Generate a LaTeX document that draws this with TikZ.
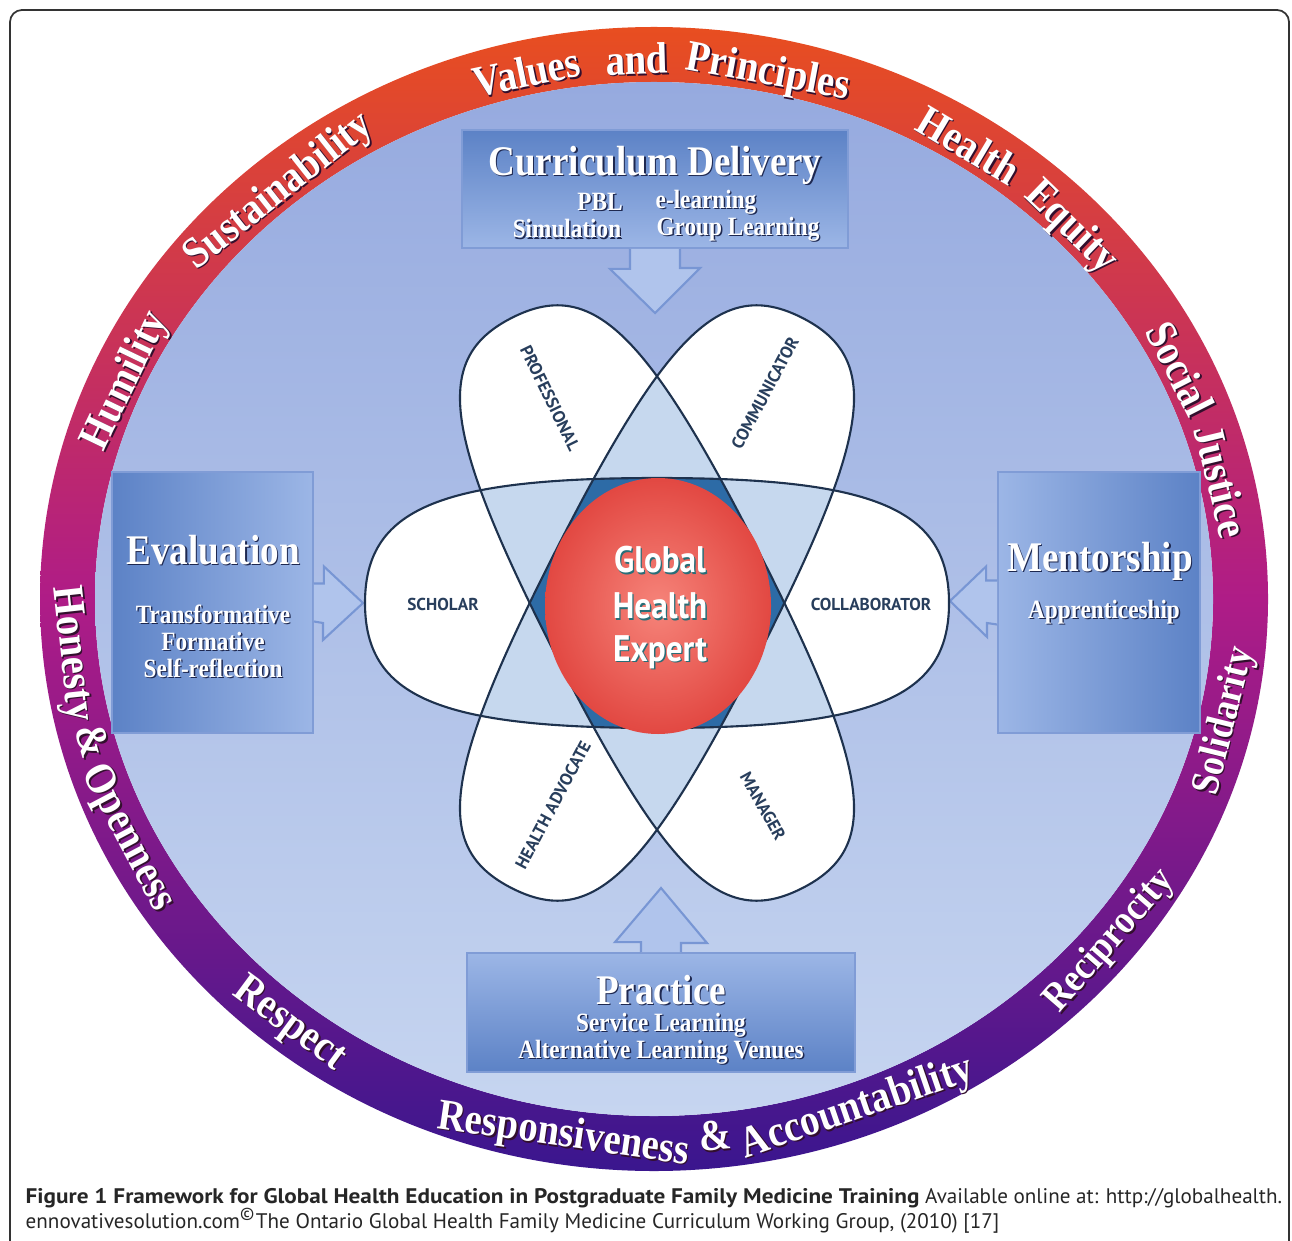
\documentclass[tikz,border=0pt]{standalone}
\usepackage{fontspec}
\setmainfont{Liberation Serif}
\newfontfamily\serifcond[FakeStretch=0.88]{Liberation Serif}
\newfontfamily\labelsans{PT Sans}
\newfontfamily\capbold[FakeStretch=1.1]{PT Sans}
\newfontfamily\expertsans[FakeStretch=0.9]{PT Sans}
\usetikzlibrary{calc,positioning}

\definecolor{ringtop}{RGB}{232,78,32}
\definecolor{ringmid}{RGB}{175,28,135}
\definecolor{ringbot}{RGB}{58,22,142}
\definecolor{disctop}{RGB}{150,170,223}
\definecolor{discbot}{RGB}{198,213,240}
\definecolor{boxdark}{RGB}{92,130,198}
\definecolor{boxlight}{RGB}{156,182,230}
\definecolor{boxline}{RGB}{128,156,214}
\definecolor{arrowfill}{RGB}{176,196,236}
\definecolor{arrowline}{RGB}{120,150,212}
\definecolor{lensblue}{RGB}{198,216,238}
\definecolor{coreblue}{RGB}{45,107,166}
\definecolor{petalline}{RGB}{30,50,78}
\definecolor{labelc}{RGB}{40,62,92}
\definecolor{redin}{RGB}{246,132,122}
\definecolor{redout}{RGB}{226,72,66}
\definecolor{txtshadow}{RGB}{30,40,80}
\definecolor{ringshadow}{RGB}{50,15,45}
\definecolor{tealshadow}{RGB}{40,110,120}

% rounded petal (superellipse-like), half length, half width, handle factor
\newcommand{\petal}[3]{(#1,0) .. controls (#1,{#3*#2}) and ({#3*#1},#2) .. (0,#2)
  .. controls ({-#3*#1},#2) and (-#1,{#3*#2}) .. (-#1,0)
  .. controls (-#1,{-#3*#2}) and ({-#3*#1},-#2) .. (0,-#2)
  .. controls ({#3*#1},-#2) and (#1,{-#3*#2}) .. (#1,0) -- cycle}

% white text with a drop shadow
\newcommand{\shtext}[5]{%
  \node[font=#3, text=#4, inner sep=0pt] (#1s) at ($(#2)+(1.4,-1.4)$) {#5};
  \node[font=#3, text=white, inner sep=0pt] (#1) at (#2) {#5};}

\begin{document}
\begin{tikzpicture}[x=0.01cm, y=0.01cm,
    boxnode/.style={rectangle, draw=boxline, line width=0.5pt, inner sep=0pt},
    blockarrow/.style={fill=arrowfill, draw=arrowline, line width=0.6pt, line join=miter},
    plabel/.style={font=\labelsans\bfseries\fontsize{4.9}{5}\selectfont, text=labelc, inner sep=0pt},
    ringword/.style={text=white, anchor=base, inner sep=0pt},
    capt/.style={font=\labelsans\fontsize{6}{7}\selectfont, text=black!85, inner sep=0pt}]

  \useasboundingbox (0,0) rectangle (1292,-1240);
  \fill[white] (0,0) rectangle (1292,-1240);
  \draw[black!80, line width=0.5pt, rounded corners=0.12cm] (10,-1260) -- (10,-10) -- (1289,-10) -- (1289,-1260);

  % ring and disc
  \shade[even odd rule, top color=ringtop, bottom color=ringbot, middle color=ringmid]
    (654,-599) ellipse[x radius=614, y radius=572] (654,-599) ellipse[x radius=559, y radius=517];
  \shade[top color=disctop, bottom color=discbot] (654,-599) ellipse[x radius=559, y radius=517];

  % values on the ring, upper half (read clockwise)
  \foreach \ang/\wrd/\nm in {102.7/Values/val, 91.7/and/and, 78.6/Principles/pri,
      130.5/Sustainability/sus, 57.2/Health/hea, 43.8/Equity/equ, 156/Humility/hum,
      25.2/Social/soc, 12.6/Justice/jus}{
    \pgfmathsetmacro{\tang}{atan2(-525*cos(\ang), 567*sin(\ang))}
    \node[ringword, text=ringshadow, font=\serifcond\bfseries\fontsize{12.5}{13}\selectfont, rotate=\tang] (\nm-s) at ({655.5+567*cos(\ang)}, {-600.5+525*sin(\ang)}) {\wrd};
    \node[ringword, font=\serifcond\bfseries\fontsize{12.5}{13}\selectfont, rotate=\tang] (\nm) at ({654+567*cos(\ang)}, {-599+525*sin(\ang)}) {\wrd};
  }
  % lower half (read anticlockwise)
  \foreach \ang/\wrd/\nm/\fs in {185.8/Honesty/hon/12.5, 195.3/\&/amp/12.5, 206.1/Openness/ope/12.5,
      231.5/Respect/res/12.5, 261.1/Responsiveness/rsp/12.5, 276.0/\&/amb/12.5,
      290.3/Accountability/acc/12.5, 321/Reciprocity/rec/11.5, 347/Solidarity/sol/11.5}{
    \pgfmathsetmacro{\tang}{atan2(554*cos(\ang), -596*sin(\ang))}
    \node[ringword, text=ringshadow, font=\serifcond\bfseries\fontsize{\fs}{13}\selectfont, rotate=\tang] (\nm-s) at ({655.5+596*cos(\ang)}, {-600.5+554*sin(\ang)}) {\wrd};
    \node[ringword, font=\serifcond\bfseries\fontsize{\fs}{13}\selectfont, rotate=\tang] (\nm) at ({654+596*cos(\ang)}, {-599+554*sin(\ang)}) {\wrd};
  }

  % boxes
  \node[boxnode, minimum width=3.86cm, minimum height=1.18cm, top color=boxdark, bottom color=boxlight] (cur) at (655,-189) {};
  \node[boxnode, minimum width=2.01cm, minimum height=2.61cm, left color=boxdark, right color=boxlight] (eva) at (212.5,-602.5) {};
  \node[boxnode, minimum width=2.02cm, minimum height=2.61cm, left color=boxlight, right color=boxdark] (men) at (1099,-602.5) {};
  \node[boxnode, minimum width=3.88cm, minimum height=1.19cm, top color=boxlight, bottom color=boxdark] (pra) at (661,-1012.5) {};

  \coordinate (curtip) at (655,-313);
  \coordinate (evatip) at (363,-603);
  \coordinate (mentip) at (950,-601);
  \coordinate (pratip) at (661,-888);

  \path[blockarrow] ($(cur.south)+(-25,0)$) -- ++(0,-20) -- ++(-20,0) -- (curtip) -- ++(45,45) -- ++(-20,0) -- ($(cur.south)+(25,0)$);
  \path[blockarrow] ($(eva.east)+(0,19)$) -- ++(10,0) -- ++(0,17) -- (evatip) -- ++(-40,-37) -- ++(0,17) -- ($(eva.east)+(0,-19)$);
  \path[blockarrow] ($(men.west)+(0,22)$) -- ++(-11,0) -- ++(0,14) -- (mentip) -- ++(37,-36) -- ++(0,14) -- ($(men.west)+(0,-22)$);
  \path[blockarrow] ($(pra.north)+(-20,0)$) -- ++(0,10) -- ++(-26,0) -- (pratip) -- ++(46,-55) -- ++(-26,0) -- ($(pra.north)+(20,0)$);

  \shtext{curt}{655,-165}{\serifcond\bfseries\fontsize{12}{13}\selectfont}{txtshadow}{Curriculum Delivery}
  \shtext{pbl}{600,-202}{\serifcond\bfseries\fontsize{7.5}{8}\selectfont}{txtshadow}{PBL}
  \shtext{elearn}{706,-202}{\serifcond\bfseries\fontsize{7.5}{8}\selectfont}{txtshadow}{e-learning}
  \shtext{simul}{567,-229}{\serifcond\bfseries\fontsize{7.5}{8}\selectfont}{txtshadow}{Simulation}
  \shtext{group}{738,-229}{\serifcond\bfseries\fontsize{7.5}{8}\selectfont}{txtshadow}{Group Learning}

  \shtext{evat}{213,-550}{\serifcond\bfseries\fontsize{12}{13}\selectfont}{txtshadow}{Evaluation}
  \shtext{transf}{213,-614}{\serifcond\bfseries\fontsize{7.5}{8}\selectfont}{txtshadow}{Transformative}
  \shtext{form}{213,-641}{\serifcond\bfseries\fontsize{7.5}{8}\selectfont}{txtshadow}{Formative}
  \shtext{selfr}{213,-668}{\serifcond\bfseries\fontsize{7.5}{8}\selectfont}{txtshadow}{Self-reflection}

  \shtext{ment}{1100,-561}{\serifcond\bfseries\fontsize{12}{13}\selectfont}{txtshadow}{Mentorship}
  \shtext{appr}{1104,-612}{\serifcond\bfseries\fontsize{7.5}{8}\selectfont}{txtshadow}{Apprenticeship}

  \shtext{prat}{661,-990}{\serifcond\bfseries\fontsize{12}{13}\selectfont}{txtshadow}{Practice}
  \shtext{serv}{661,-1025}{\serifcond\bfseries\fontsize{7.5}{8}\selectfont}{txtshadow}{Service Learning}
  \shtext{alt}{661,-1052}{\serifcond\bfseries\fontsize{7.5}{8}\selectfont}{txtshadow}{Alternative Learning Venues}

  % the three petals
  \begin{scope}[shift={(657,-603)}]
    \foreach \rot/\len/\wid/\hk in {0/292/125/0.75, 117/320/114/0.78, 63/320/114/0.78}
      \fill[white, rotate=\rot] \petal{\len}{\wid}{\hk};
    \begin{scope}
      \clip \petal{292}{125}{0.75};
      \fill[lensblue, rotate=117] \petal{320}{114}{0.78};
      \fill[lensblue, rotate=63] \petal{320}{114}{0.78};
    \end{scope}
    \begin{scope}[rotate=117]
      \clip \petal{320}{114}{0.78};
      \fill[lensblue, rotate=-54] \petal{320}{114}{0.78};
    \end{scope}
    \begin{scope}
      \clip \petal{292}{125}{0.75};
      \begin{scope}[rotate=117]
        \clip \petal{320}{114}{0.78};
        \fill[coreblue, rotate=-54] \petal{320}{114}{0.78};
      \end{scope}
    \end{scope}
    \foreach \rot/\len/\wid/\hk in {0/292/125/0.75, 117/320/114/0.78, 63/320/114/0.78}
      \draw[petalline, line width=0.6pt, rotate=\rot] \petal{\len}{\wid}{\hk};
  \end{scope}

  \node[plabel, rotate=-64] (prof) at (550,-398) {PROFESSIONAL};
  \node[plabel, rotate=62] (comm) at (765,-393) {COMMUNICATOR};
  \node[plabel] (schol) at (443,-604) {SCHOLAR};
  \node[plabel] (collab) at (871,-604) {COLLABORATOR};
  \node[plabel, rotate=62] (adv) at (553,-805) {HEALTH ADVOCATE};
  \node[plabel, rotate=-61] (mgr) at (763,-806) {MANAGER};

  % centre
  \shade[inner color=redin, outer color=redout] (658,-606) ellipse[x radius=113, y radius=128];
  \shtext{glob}{660,-560}{\expertsans\bfseries\fontsize{10.5}{12}\selectfont}{tealshadow}{Global}
  \shtext{heal}{660,-606}{\expertsans\bfseries\fontsize{10.5}{12}\selectfont}{tealshadow}{Health}
  \shtext{expt}{660,-652}{\expertsans\bfseries\fontsize{10.5}{12}\selectfont}{tealshadow}{Expert}

  % caption
  \node[capt, anchor=base west] (cap1) at (25,-1203) {{\capbold\bfseries Figure 1 Framework for Global Health Education in Postgraduate Family Medicine Training} Available online at: http://globalhealth.};
  \node[capt, anchor=base west] (cap2) at (25,-1228) {ennovativesolution.com\textsuperscript{\textcopyright}The Ontario Global Health Family Medicine Curriculum Working Group, (2010) [17]};
\end{tikzpicture}
\end{document}
